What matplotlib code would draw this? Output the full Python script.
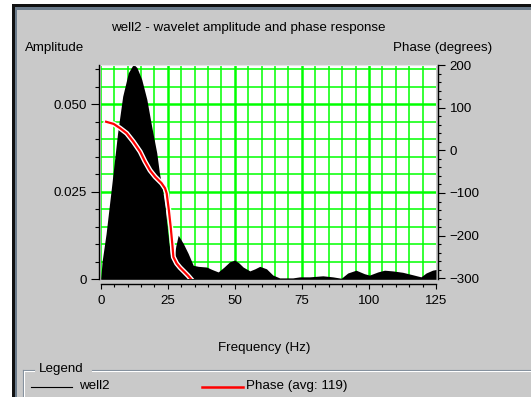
import matplotlib
matplotlib.use("Agg")
from matplotlib import pyplot as plt
from matplotlib.patches import Rectangle
from matplotlib.lines import Line2D
from matplotlib.ticker import MultipleLocator, FixedLocator
import matplotlib.patheffects as pe

# amplitude spectrum of the wavelet
freq = [0, 0.5, 2, 4.2, 6.3, 8.2, 10.3, 12.2, 13.5, 15.3, 17.2, 19.0, 20.9, 21.9,
        23.1, 24.0, 25.2, 26.1, 27.3, 28.0, 28.9, 30.8, 32.6, 34.5, 36.4, 39.5,
        41.5, 43.8, 46.0, 48.1, 50.0, 51.5, 53.1, 55.6, 57.5, 59.3, 61.8, 64.2,
        66.7, 71.6, 74.2, 77.9, 82.8, 86.5, 89.7, 92.1, 95.2, 98.3, 100.2, 103.3,
        105.8, 108.8, 112.6, 116.3, 119.4, 121.3, 123.7, 125]
amplitude = [0.0, 0.005, 0.013, 0.0275, 0.0418, 0.0523, 0.059, 0.0615, 0.0605,
             0.0571, 0.0514, 0.0437, 0.0361, 0.0303, 0.0255, 0.0208, 0.0121,
             0.0064, 0.0059, 0.0095, 0.0126, 0.0102, 0.0074, 0.0040, 0.0037,
             0.0035, 0.0028, 0.0021, 0.0035, 0.0050, 0.0055, 0.0047, 0.0035,
             0.0024, 0.0030, 0.0037, 0.0030, 0.0012, 0.0004, 0.0004, 0.0007,
             0.0007, 0.0010, 0.0007, 0.0003, 0.0018, 0.0026, 0.0016, 0.0012,
             0.0021, 0.0026, 0.0024, 0.0020, 0.0013, 0.0007, 0.0018, 0.0026, 0.0028]

# phase response (degrees)
phase_freq = [2.0, 4.8, 7.2, 9.7, 12.2, 14.7, 16.5, 18.4, 20.3, 22.7, 24.0, 24.6,
              25.4, 26.1, 26.7, 27.1, 28.3, 29.6, 31.2, 32.6, 33.7]
phase = [67, 62, 52, 40, 20, -3, -26, -47, -62, -77, -89, -101,
         -140, -180, -220, -250, -265, -275, -285, -294, -302]

amp_ticks = [0, 0.025, 0.050]
amp_labels = ["0", "0.025", "0.050"]

W, H = 531, 397
GRAY = "#c9c9c9"
GREEN = "#00ff00"
FONT = "Liberation Sans"
FS = 9.6

plt.rcParams["font.family"] = [FONT, "DejaVu Sans"]


def px(x, y):
    # pixel position (from top-left) -> figure fraction
    return x / W, 1 - y / H


fig = plt.figure(figsize=(W / 100, H / 100), dpi=100, facecolor="white")

# window frame (behind the axes)
for i, (x0, y0, c) in enumerate([(12, 4, "#111111"), (15, 7, "#6b7b8b"), (17, 10, GRAY)]):
    fig.add_artist(Rectangle(px(x0, H), (W - x0) / W, (H - y0) / H,
                             transform=fig.transFigure, facecolor=c,
                             edgecolor="none", zorder=-10 + i))

ax = fig.add_axes([100.7 / W, (H - 279.3) / H, 335.3 / W, 214.8 / H])
ax.set_facecolor("white")
ax.set_xlim(0, 125)
ax.set_ylim(0, 0.06137)

# green grid: thin every 5 Hz / 0.005, thick every 25 Hz / 0.025
for f in range(5, 125, 5):
    ax.axvline(f, color=GREEN, lw=1.8 if f % 25 == 0 else 1.1, zorder=0.5)
for k in range(1, 13):
    ax.axhline(k * 0.005, color=GREEN, lw=1.8 if k % 5 == 0 else 1.1, zorder=0.5)
ax.axvline(0, color=GREEN, lw=1.1, zorder=0.5)

ax.fill_between(freq, amplitude, 0, color="black", lw=0, zorder=1)

ax.spines["top"].set_color("#e8e8e8")
ax.spines["right"].set_visible(False)
ax.spines["left"].set_position(("outward", 1.1))
ax.spines["bottom"].set_position(("outward", 3.6))
ax.spines["left"].set_linewidth(1.0)
ax.spines["bottom"].set_linewidth(1.0)

ax.xaxis.set_major_locator(MultipleLocator(25))
ax.xaxis.set_minor_locator(MultipleLocator(5))
ax.yaxis.set_major_locator(FixedLocator(amp_ticks))
ax.yaxis.set_minor_locator(MultipleLocator(0.005))
ax.set_yticklabels(amp_labels)
ax.tick_params(axis="x", which="major", length=3.3, width=0.8, pad=4.5, labelsize=FS)
ax.tick_params(axis="x", which="minor", length=2.2, width=0.8)
ax.tick_params(axis="y", which="major", length=5.8, width=0.8, pad=3.2, labelsize=FS)
ax.tick_params(axis="y", which="minor", length=2.9, width=0.8)

# phase on the right axis
ax2 = ax.twinx()
ax2.set_ylim(-302.3, 201.2)
ax2.plot(phase_freq, phase, color="#ff0000", lw=1.6, zorder=3,
         path_effects=[pe.Stroke(linewidth=3.6, foreground="white"), pe.Normal()])
for s in ["top", "left", "bottom"]:
    ax2.spines[s].set_visible(False)
ax2.spines["right"].set_position(("outward", 1.1))
ax2.spines["right"].set_linewidth(1.0)
ax2.yaxis.set_major_locator(MultipleLocator(100))
ax2.yaxis.set_minor_locator(MultipleLocator(20))
ax2.tick_params(axis="y", which="major", length=5.0, width=0.8, pad=3.6, labelsize=FS)
ax2.tick_params(axis="y", which="minor", length=2.5, width=0.8)

# texts
fig.text(*px(248, 28), "well2 - wavelet amplitude and phase response",
         ha="center", va="center", fontsize=FS)
fig.text(*px(25, 47.5), "Amplitude", ha="left", va="center", fontsize=FS)
fig.text(*px(492, 47.5), "Phase (degrees)", ha="right", va="center", fontsize=FS)
fig.text(*px(264, 348), "Frequency (Hz)", ha="center", va="center", fontsize=FS)

# legend group box
for xs, ys, c in [([23, 34], [369.5, 369.5], "#7f8c9a"), ([92, W], [369.5, 369.5], "#7f8c9a"),
                  ([24, 34], [370.6, 370.6], "white"), ([92, W], [370.6, 370.6], "white"),
                  ([23, 23], [369.5, H], "#7f8c9a"), ([24.2, 24.2], [370.6, H], "white")]:
    fig.add_artist(Line2D([x / W for x in xs], [1 - y / H for y in ys],
                          transform=fig.transFigure, color=c, lw=0.8))
fig.text(*px(39, 369), "Legend", ha="left", va="center", fontsize=FS)
fig.add_artist(Line2D([31 / W, 72 / W], [1 - 387 / H] * 2, transform=fig.transFigure,
                      color="black", lw=0.8))
fig.text(*px(79, 386), "well2", ha="left", va="center", fontsize=FS)
fig.add_artist(Line2D([202 / W, 243 / W], [1 - 387 / H] * 2, transform=fig.transFigure,
                      color="#ff0000", lw=1.8))
fig.text(*px(246, 386), "Phase (avg: 119)", ha="left", va="center", fontsize=FS)

fig.savefig("out.png", dpi=100, facecolor=fig.get_facecolor())
